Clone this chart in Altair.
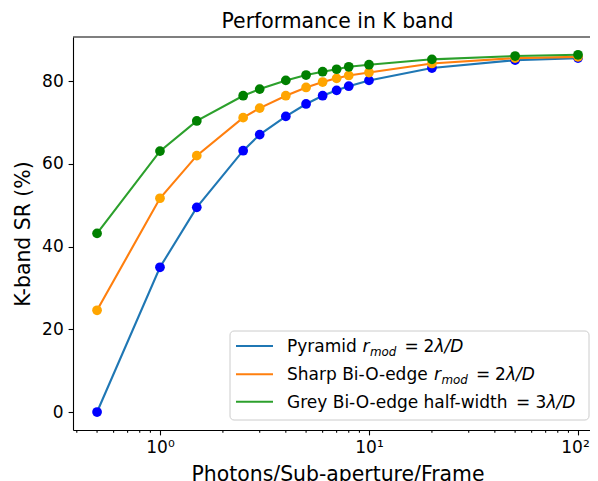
import altair as alt
import pandas as pd

# ---------------- data ----------------
photons = [0.5, 1, 1.5, 2.5, 3, 4, 5, 6, 7, 8, 10, 20, 50, 100]
pyramid = [0.0, 35.0, 49.5, 63.2, 67.1, 71.5, 74.5, 76.5, 77.8, 78.8, 80.2, 83.2, 85.1, 85.6]
sharp = [24.6, 51.7, 62.0, 71.2, 73.5, 76.5, 78.5, 79.8, 80.7, 81.4, 82.1, 84.3, 85.6, 85.9]
grey = [43.2, 63.1, 70.4, 76.5, 78.1, 80.2, 81.5, 82.3, 82.9, 83.5, 84.0, 85.3, 86.1, 86.4]
series_names = ["Pyramid", "Sharp", "Grey"]
major_ticks = [1, 10, 100]
minor_ticks = [0.4, 0.5, 0.6, 0.7, 0.8, 0.9,
               2, 3, 4, 5, 6, 7, 8, 9,
               20, 30, 40, 50, 60, 70, 80, 90]
y_ticks = [0, 20, 40, 60, 80]

rows = []
for name, vals in zip(series_names, [pyramid, sharp, grey]):
    for xv, yv in zip(photons, vals):
        rows.append({"series": name, "photons": xv, "sr": yv})
df = pd.DataFrame(rows)
minor_df = pd.DataFrame({"photons": minor_ticks, "sr": [0.0] * len(minor_ticks)})
one = pd.DataFrame({"a": [0]})

# ---------------- styling ----------------
FONT = "DejaVu Sans"
W, H = 517, 393
line_colors = {"Pyramid": "#1f77b4", "Sharp": "#ff7f0e", "Grey": "#2ca02c"}
dot_colors = {"Pyramid": "#0000ff", "Sharp": "#ffa500", "Grey": "#008000"}

xscale = alt.Scale(type="log", domain=[0.3836, 114.1], nice=False)
yscale = alt.Scale(domain=[-4.35, 90.7], nice=False, zero=False)

x_axis = alt.Axis(
    values=major_ticks,
    labelExpr="datum.value == 1 ? '10\u2070' : datum.value == 10 ? '10\u00b9' : '10\u00b2'",
    labelOffset={"condition": {"test": "datum.value == 100", "value": -3}, "value": 0},
    title="Photons/Sub-aperture/Frame",
    titleX=264.5, titleY=50, titleAlign="center", titleBaseline="alphabetic",
    labelFlush=False,
)
y_axis = alt.Axis(
    values=y_ticks,
    title="K-band SR (%)",
    titleAngle=270, titleX=-44, titleY=H / 2, titleAlign="center",
    titleBaseline="alphabetic",
)
X = alt.X("photons:Q", scale=xscale, axis=x_axis)
Y = alt.Y("sr:Q", scale=yscale, axis=y_axis)

layers = []
for name in series_names:
    sub = alt.Chart(df).transform_filter(alt.datum.series == name)
    layers.append(sub.mark_line(color=line_colors[name], strokeWidth=2.1).encode(x=X, y=Y))
    layers.append(sub.mark_circle(color=dot_colors[name], size=95, opacity=1).encode(x=X, y=Y))

# minor ticks of the log axis
layers.append(alt.Chart(minor_df).mark_rule(color="black", strokeWidth=1.1).encode(
    x=X, y=alt.value(H), y2=alt.value(H + 2.8)))

# top spine
layers.append(alt.Chart(one).mark_rule(color="black", strokeWidth=1.1).encode(
    x=alt.value(0), x2=alt.value(W), y=alt.value(0)))

# title
layers.append(alt.Chart(one).mark_text(font=FONT, fontSize=20.4, color="black",
                                       align="center", baseline="alphabetic").encode(
    x=alt.value(264.5), y=alt.value(-8.6), text=alt.value("Performance in K band")))

# legend box
layers.append(alt.Chart(one).mark_rect(fill="white", fillOpacity=0.8, stroke="#cccccc",
                                       strokeWidth=1, cornerRadius=4).encode(
    x=alt.value(157), x2=alt.value(516), y=alt.value(294), y2=alt.value(383)))

row_y = [309, 337.3, 364.7]
for name, ry in zip(series_names, row_y):
    layers.append(alt.Chart(one).mark_rule(color=line_colors[name], strokeWidth=2.1).encode(
        x=alt.value(163), x2=alt.value(200), y=alt.value(ry)))

FS = 17
segments = [
    # row, text, x, italic, subscript
    (0, "Pyramid", 214, False, False),
    (0, "r", 289.5, True, False),
    (0, "mod", 297, True, True),
    (0, "=", 331.5, False, False),
    (0, "2", 350.5, False, False),
    (0, "\u03bb/D", 361.5, True, False),
    (1, "Sharp Bi-O-edge", 214, False, False),
    (1, "r", 361, True, False),
    (1, "mod", 368.5, True, True),
    (1, "=", 403, False, False),
    (1, "2", 422, False, False),
    (1, "\u03bb/D", 433, True, False),
    (2, "Grey Bi-O-edge half-width", 214, False, False),
    (2, "=", 443, False, False),
    (2, "3", 462.5, False, False),
    (2, "\u03bb/D", 473.5, True, False),
]
for r, txt, xx, ital, sub in segments:
    base_y = row_y[r] + 6
    layers.append(alt.Chart(one).mark_text(
        font=FONT, fontSize=FS * 0.7 if sub else FS, color="black",
        fontStyle="italic" if ital else "normal",
        align="left", baseline="alphabetic").encode(
        x=alt.value(xx), y=alt.value(base_y + (3.5 if sub else 0)), text=alt.value(txt)))

chart = alt.layer(*layers).properties(
    width=W, height=H,
    autosize=alt.AutoSizeParams(type="none"),
    padding={"left": 65, "top": 29, "right": 0, "bottom": 51},
).configure_view(stroke=None).configure_axis(
    domainColor="black", domainWidth=1.1,
    tickColor="black", tickWidth=1.1, tickSize=4.9,
    labelPadding=4.9, labelFont=FONT, labelFontSize=17, labelColor="black",
    titleFont=FONT, titleFontSize=20.4, titleFontWeight="normal", titleColor="black",
    grid=False,
)

chart.save("out.html", embed_options={"renderer": "svg", "actions": False})
